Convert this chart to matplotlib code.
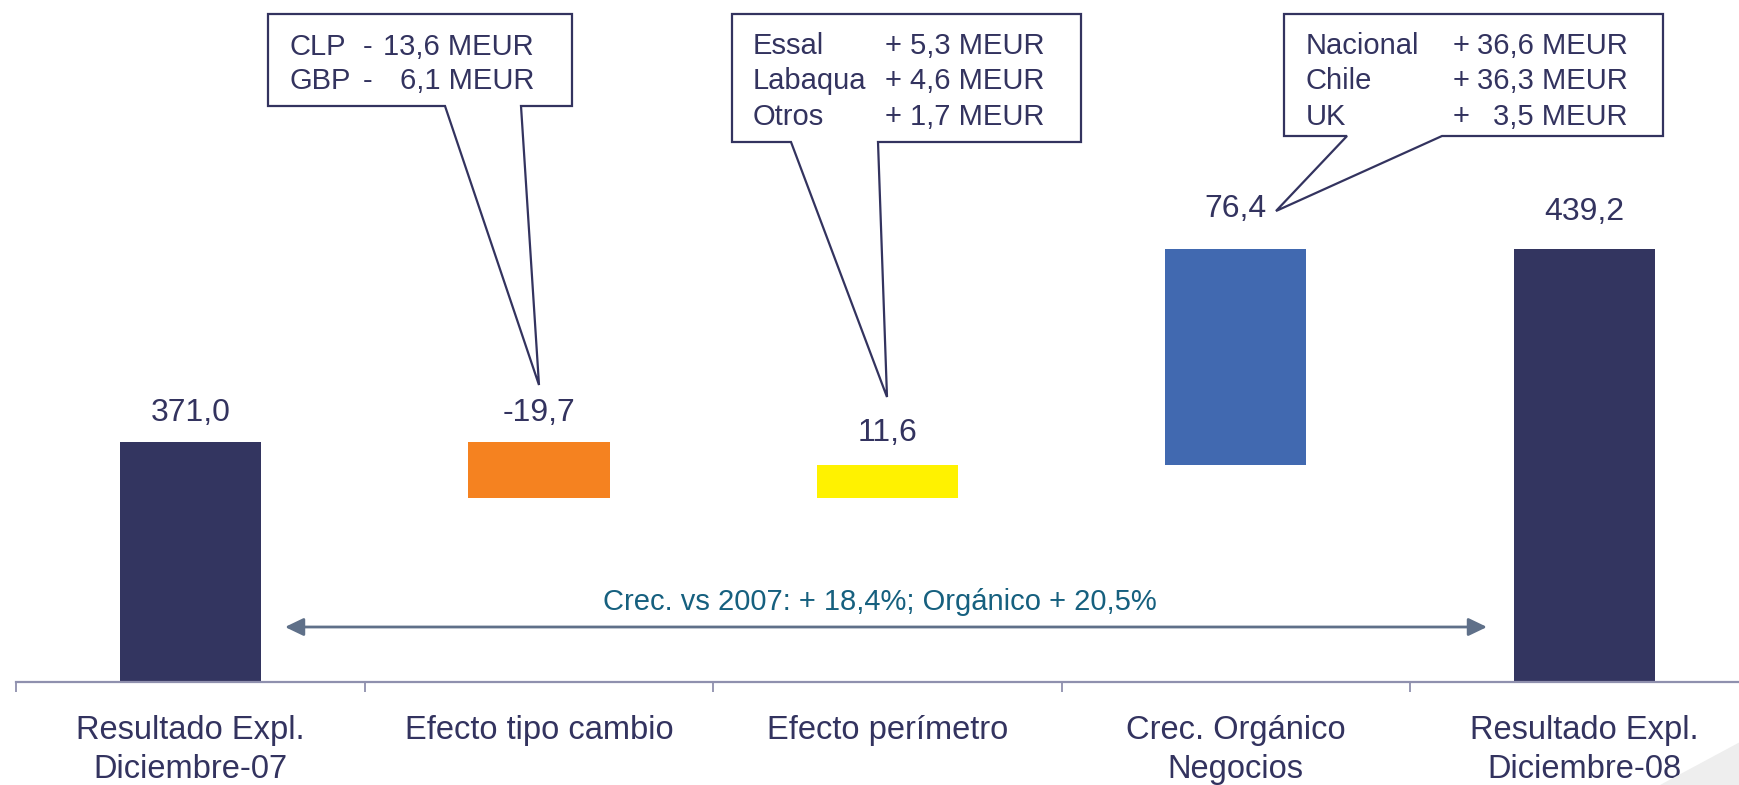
import matplotlib
matplotlib.use("Agg")
import matplotlib.pyplot as plt
from matplotlib.patches import Polygon

# data
categories = ["Resultado Expl.\nDiciembre-07", "Efecto tipo cambio", "Efecto perímetro",
              "Crec. Orgánico\nNegocios", "Resultado Expl.\nDiciembre-08"]
values = [371.0, -19.7, 11.6, 76.4, 439.2]
is_total = [True, False, False, False, True]
value_labels = ["371,0", "-19,7", "11,6", "76,4", "439,2"]
bar_colors = ["#333560", "#F58220", "#FFF200", "#4169B0", "#333560"]

fx_names = ["CLP", "GBP"]
fx_values = ["13,6 MEUR", "6,1 MEUR"]
perim_names = ["Essal", "Labaqua", "Otros"]
perim_values = ["+ 5,3 MEUR", "+ 4,6 MEUR", "+ 1,7 MEUR"]
org_names = ["Nacional", "Chile", "UK"]
org_values = ["36,6 MEUR", "36,3 MEUR", "3,5 MEUR"]
growth_text = "Crec. vs 2007: + 18,4%; Orgánico + 20,5%"

plt.rcParams['font.family'] = ['Liberation Sans', 'DejaVu Sans']
navy = "#33335F"
W, H = 1740, 785

fig = plt.figure(figsize=(W / 100, H / 100), dpi=100)
ax = fig.add_axes([0, 103 / H, 1, 1 - 103 / H])


def px(x, y):
    # pixel position (from top-left) -> figure fraction
    return x / W, 1 - y / H


# waterfall bars
x = list(range(len(values)))
bottoms, heights = [], []
running = 0
for v, tot in zip(values, is_total):
    if tot:
        bottoms.append(0)
        heights.append(v)
        running = v
    else:
        bottoms.append(running + min(v, 0))
        heights.append(abs(v))
        running += v
ax.bar(x, heights, bottom=bottoms, width=0.405, color=bar_colors, zorder=2)

# value labels above bars (offsets in points)
label_off = [15, 15, 17, 23, 21]
for i in x:
    ax.annotate(value_labels[i], (i, bottoms[i] + heights[i]), xytext=(0, label_off[i]),
                textcoords="offset points", ha="center", va="baseline",
                fontsize=23, color=navy)

ax.set_xlim(-0.547, 4.447)
ax.set_ylim(286.2, 527.2)
for s in ["top", "right", "left"]:
    ax.spines[s].set_visible(False)
ax.spines["bottom"].set_color("#8F90AE")
ax.spines["bottom"].set_linewidth(1.6)
ax.spines["bottom"].set_bounds(-0.5, 4.447)
ax.set_yticks([])
ax.set_xticks(x)
ax.set_xticklabels(categories, fontsize=23.5, color=navy, linespacing=1.3)
ax.tick_params(axis="x", which="major", length=0, pad=24)
ax.set_xticks([i - 0.5 for i in x], minor=True)
ax.tick_params(axis="x", which="minor", length=7.5, width=1.3, color="#8F90AE", direction="out")

# growth arrow
ax.annotate("", xy=px(285, 627), xytext=px(1487, 627), xycoords="figure fraction",
            textcoords="figure fraction",
            arrowprops=dict(arrowstyle="<|-|>,head_length=0.75,head_width=0.36",
                            mutation_scale=15, lw=2, color="#5F7089", shrinkA=0, shrinkB=0))
fig.text(*px(880, 610), growth_text, ha="center", va="baseline", fontsize=21, color="#16607F")


# callout boxes
def callout(box, base_l, base_r, tip):
    x0, y0, x1, y1 = box
    pts = [px(x0, y0), px(x1, y0), px(x1, y1), px(base_r, y1), px(*tip),
           px(base_l, y1), px(x0, y1)]
    fig.patches.append(Polygon(pts, closed=True, transform=fig.transFigure,
                               facecolor="white", edgecolor=navy, lw=1.6, zorder=5))


callout((268, 14, 572, 106), 445, 521, (539, 385))
callout((732, 14, 1081, 142), 791, 878, (887, 397))
callout((1284, 14, 1663, 136), 1347, 1442, (1276, 211))

fs = 21
for name, val, yb in zip(fx_names, fx_values, [55, 89]):
    fig.text(*px(290, yb), name, va="baseline", fontsize=fs, color=navy, zorder=6)
    fig.text(*px(363, yb), "-", va="baseline", fontsize=fs, color=navy, zorder=6)
    fig.text(*px(534, yb), val, ha="right", va="baseline", fontsize=fs, color=navy, zorder=6)
for name, val, yb in zip(perim_names, perim_values, [54, 89, 125]):
    fig.text(*px(753, yb), name, va="baseline", fontsize=fs, color=navy, zorder=6)
    fig.text(*px(885, yb), val, va="baseline", fontsize=fs, color=navy, zorder=6)
for name, val, yb in zip(org_names, org_values, [54, 89, 125]):
    fig.text(*px(1306, yb), name, va="baseline", fontsize=fs, color=navy, zorder=6)
    fig.text(*px(1453, yb), "+", va="baseline", fontsize=fs, color=navy, zorder=6)
    fig.text(*px(1628, yb), val, ha="right", va="baseline", fontsize=fs, color=navy, zorder=6)

# faint slide decoration in the corner
fig.patches.append(Polygon([px(1660, 785), px(1740, 742), px(1740, 785)], closed=True,
                           transform=fig.transFigure, facecolor="#EEEEEE", edgecolor="none"))

fig.savefig("out.png", dpi=100)
